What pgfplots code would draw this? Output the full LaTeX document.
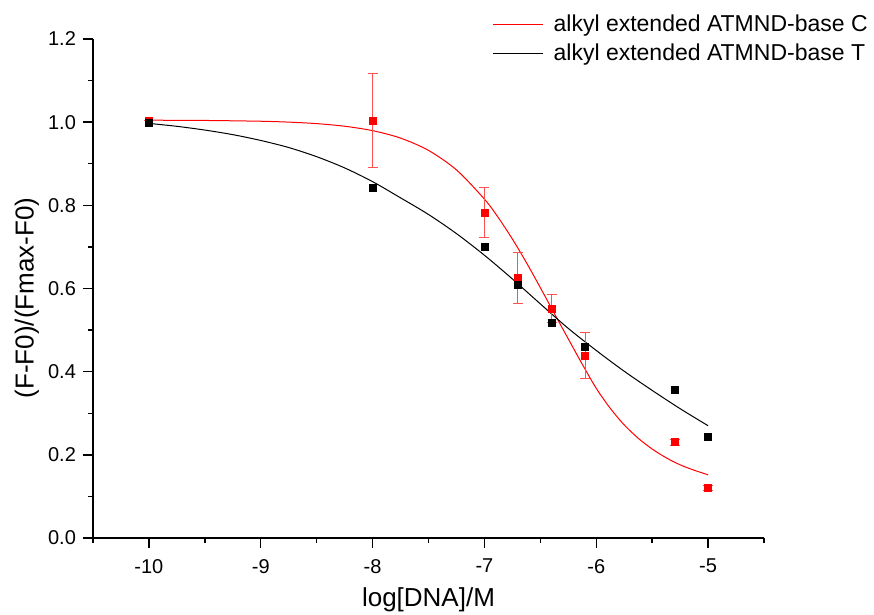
\documentclass[border=0pt]{standalone}
\usepackage{pgfplots}
\pgfplotsset{compat=1.18}
\usepackage{fontspec}
\setmainfont{Liberation Sans}
\definecolor{errred}{RGB}{255,80,80}
\begin{document}
\begin{tikzpicture}
\path[use as bounding box] (-46.5pt,-38.5pt) rectangle (390.5pt,269pt);
\begin{axis}[
  at={(0,0)}, anchor=south west,
  scale only axis, width=335.5pt, height=249.5pt,
  xmin=-10.5, xmax=-4.5, ymin=0, ymax=1.2,
  axis x line*=bottom, axis y line*=left,
  axis line style={line width=0.7pt},
  tick align=outside,
  major tick length=5pt, minor tick length=2.5pt,
  every tick/.style={line width=0.7pt, black},
  xtick={-10,-9,-8,-7,-6,-5},
  minor xtick={-10.5,-9.5,-8.5,-7.5,-6.5,-5.5,-4.5},
  ytick={0,0.2,0.4,0.6,0.8,1.0,1.2},
  minor ytick={0.1,0.3,0.5,0.7,0.9,1.1},
  /pgf/number format/assume math mode=true,
  y tick label style={/pgf/number format/fixed, /pgf/number format/fixed zerofill, /pgf/number format/precision=1},
  x tick label style={yshift=-2pt},
  tick label style={font=\fontsize{10}{12}\selectfont},
  xlabel={log[DNA]/M},
  label style={font=\fontsize{13}{15}\selectfont},
  xlabel style={at={(axis description cs:0.5,0)}, anchor=north, inner sep=0pt, yshift=-24.5pt},
  legend style={at={(axis description cs:0.595,1.055)}, anchor=north west, draw=none, fill=none,
    font=\fontsize{11.5}{13.5}\selectfont, row sep=1.5pt, column sep=3.5pt, inner sep=0pt,
    nodes={inner sep=1.5pt}},
  legend cell align=left,
  legend image code/.code={\draw[#1] (0pt,0pt) -- (25pt,0pt);},
  clip=false,
]
% fitted curves
\addplot[red, line width=0.5pt, smooth] coordinates {
(-10,1.0047) (-9.5,1.0041) (-9,1.0022) (-8.75,1.0001) (-8.5,0.9965) (-8.25,0.9902) (-8,0.9796)
(-7.75,0.9617) (-7.5,0.9321) (-7.25,0.8852) (-7,0.8150) (-6.875,0.7701) (-6.75,0.7190)
(-6.625,0.6625) (-6.5,0.6021) (-6.375,0.5401) (-6.25,0.4788) (-6.125,0.418) (-6.0,0.360)
(-5.875,0.312) (-5.75,0.272) (-5.625,0.240) (-5.5,0.214) (-5.375,0.193) (-5.25,0.176)
(-5.125,0.163) (-5.0,0.152)};
\addlegendentry{alkyl extended ATMND-base C}
\addplot[black, line width=0.5pt, smooth] coordinates {
(-10,0.997) (-9.75,0.990) (-9.5,0.981) (-9.25,0.970) (-9,0.956) (-8.75,0.939) (-8.5,0.917)
(-8.25,0.890) (-8,0.857) (-7.75,0.818) (-7.5,0.778) (-7.25,0.732) (-7,0.680) (-6.75,0.623)
(-6.5,0.563) (-6.25,0.504) (-6,0.451) (-5.75,0.401) (-5.5,0.355) (-5.25,0.311) (-5.0,0.270)};
\addlegendentry{alkyl extended ATMND-base T}
% data points
\addplot[forget plot, only marks, mark=square*, mark size=1.75pt, red,
  error bars/.cd, y dir=both, y explicit,
  error bar style={errred, line width=0.5pt},
  error mark options={rotate=90, mark size=2.5pt, errred, line width=0.5pt}]
coordinates {
(-10,1.003) +- (0,0)
(-8,1.004) +- (0,0.114)
(-7,0.782) +- (0,0.060)
(-6.7,0.625) +- (0,0.061)
(-6.4,0.552) +- (0,0.033)
(-6.1,0.438) +- (0,0.055)
(-5.3,0.230) +- (0,0.008)
(-5,0.120) +- (0,0.006)};
\addplot[forget plot, only marks, mark=square*, mark size=1.75pt, black] coordinates {
(-10,0.999) (-8,0.841) (-7,0.701) (-6.7,0.608) (-6.4,0.517) (-6.1,0.460) (-5.3,0.355) (-5,0.244)};
\node[rotate=90, anchor=center, inner sep=0pt, font=\fontsize{13}{15}\selectfont]
  at (axis description cs:-0.0984,0.481) {(F-F0)/(Fmax-F0)};
\end{axis}
\end{tikzpicture}
\end{document}
